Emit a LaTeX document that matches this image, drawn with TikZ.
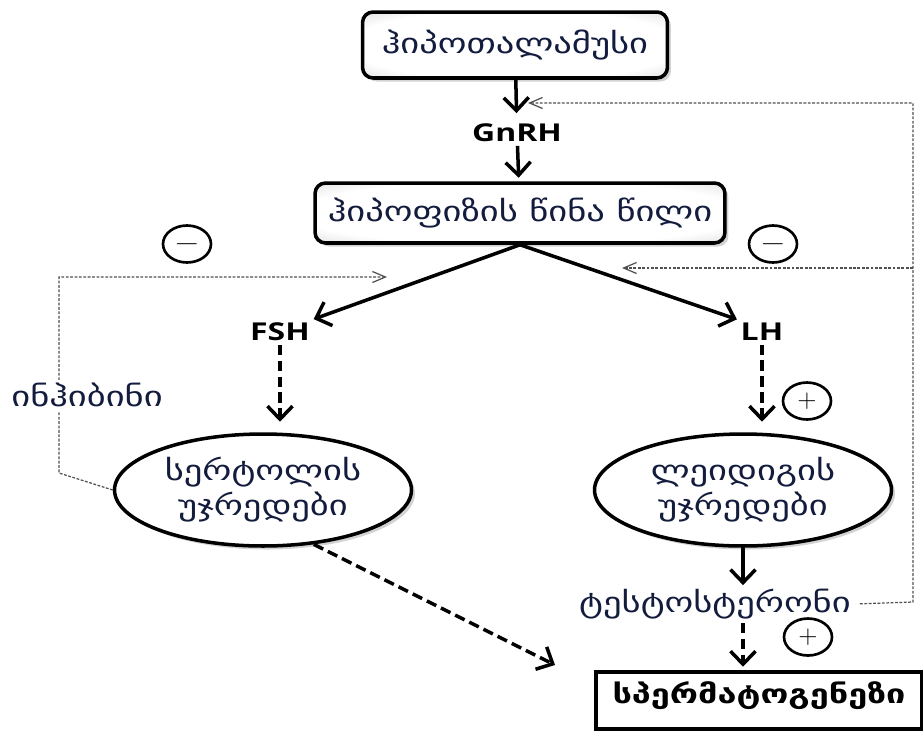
\documentclass[tikz,border=0pt]{standalone}
\usepackage{fontspec}
\setmainfont{DejaVu Sans}
\newfontfamily\latfont{Open Sans}
\usetikzlibrary{arrows.meta,shapes.geometric,shadows,backgrounds}
\definecolor{gtext}{RGB}{20,28,62}
\definecolor{fbgray}{RGB}{80,80,80}
\pgfdeclareradialshading{glow}{\pgfpoint{0bp}{0bp}}{color(0bp)=(white); color(27bp)=(white);
  color(50bp)=(black!28); color(70bp)=(black!45)}
\newcommand{\wtxt}[1]{\scalebox{1.3}[1]{#1}}
\tikzset{
  boxnode/.style={rectangle,rounded corners=6pt,draw=black,line width=2pt,shading=glow,
    drop shadow={shadow xshift=2pt,shadow yshift=-2pt,opacity=.35},
    text=gtext,font=\fontsize{16}{18}\selectfont},
  cellnode/.style={ellipse,draw=black,line width=2pt,shading=glow,
    drop shadow={shadow xshift=2pt,shadow yshift=-2pt,opacity=.35},
    minimum width=5.94cm,minimum height=2.24cm,inner sep=0pt,align=center,
    text=gtext,font=\fontsize{16}{20}\selectfont},
  signnode/.style={ellipse,draw=black,line width=1.5pt,fill=white,
    minimum width=0.96cm,minimum height=0.74cm,inner sep=0pt,font=\Large},
  hormnode/.style={inner sep=2pt,font=\latfont\bfseries\fontsize{14}{16}\selectfont},
  labnode/.style={inner sep=2pt,text=gtext,font=\fontsize{16}{18}\selectfont},
  gmarrow/.style={-{Straight Barb[length=2.6mm,width=5mm]},line width=2pt,draw=black},
  dasharrow/.style={gmarrow,dash pattern=on 6pt off 3pt},
  fbarrow/.style={-{Straight Barb[length=2.6mm,width=2.2mm]},draw=fbgray,line width=0.7pt,
    dash pattern=on 1.6pt off 0.9pt}
}

\begin{document}
\begin{tikzpicture}[x=0.02cm,y=-0.02cm]
  \useasboundingbox (0,0) rectangle (923,731);
  \node[boxnode,minimum width=6.1cm,minimum height=1.32cm] (hypo) at (515,45) {\wtxt{ჰიპოთალამუსი}};
  \node[hormnode] (gnrh) at (517,133) {\wtxt{GnRH}};
  \node[boxnode,minimum width=8.2cm,minimum height=1.2cm] (pit) at (520,213) {\wtxt{ჰიპოფიზის წინა წილი}};
  \node[hormnode] (fsh) at (280,332) {\wtxt{FSH}};
  \node[hormnode] (lh) at (762,332) {\wtxt{LH}};
  \node[signnode] (minusL) at (187,244) {\wtxt{$-$}};
  \node[signnode] (minusR) at (773,244) {\wtxt{$-$}};
  \node[labnode,fill=white] (inhib) at (87,395) {\wtxt{ინჰიბინი}};
  \node[signnode] (plusA) at (807,401) {$+$};
  \node[cellnode] (sertoli) at (263,490) {\wtxt{სერტოლის}\\\wtxt{უჯრედები}};
  \node[cellnode] (leydig) at (743,490) {\wtxt{ლეიდიგის}\\\wtxt{უჯრედები}};
  \node[labnode] (testo) at (715,604) {\wtxt{ტესტოსტერონი}};
  \node[signnode] (plusB) at (808,637) {$+$};
  \node[draw=black,line width=2pt,fill=white,minimum width=6.52cm,inner sep=0pt,
    text height=0.62cm,text depth=0.52cm,font=\bfseries\fontsize{15}{17}\selectfont]
    (sperm) at (759,700.5) {\wtxt{სპერმატოგენეზი}};
  \coordinate (fbR) at (913,602);
  \coordinate (gnrhIn) at (528,103);
  \coordinate (pitIn) at (622,268);
  \coordinate (fbL) at (59,473);
  \coordinate (fshIn) at (387,277);
  \coordinate (spermIn) at (555,665);
  \draw[gmarrow,shorten >=4pt] (hypo) -- (gnrh);
  \draw[gmarrow,shorten >=2pt] (gnrh) -- (pit);
  \draw[gmarrow] (pit.south) -- (fsh.north east);
  \draw[gmarrow] (pit.south) -- (lh.north west);
  \draw[dasharrow,shorten >=6pt] (fsh.south) -- (fsh.south |- sertoli.north);
  \draw[dasharrow,shorten >=6pt] (lh.south) -- (lh.south |- leydig.north);
  \draw[gmarrow] (leydig.south) -- (leydig.south |- testo.north);
  \draw[dasharrow,shorten >=2pt] (leydig.south |- testo.south) -- (leydig.south |- sperm.north);
  \draw[dasharrow] (sertoli.-47) -- (spermIn);
  \begin{scope}[on background layer]
    \draw[fbarrow,shorten <=3pt] (testo.east) -- (fbR) |- (gnrhIn);
    \draw[fbarrow] (fbR |- pitIn) -- (pitIn);
    \draw[fbarrow] (sertoli.west) -- (fbL) |- (fshIn);
  \end{scope}
\end{tikzpicture}
\end{document}
